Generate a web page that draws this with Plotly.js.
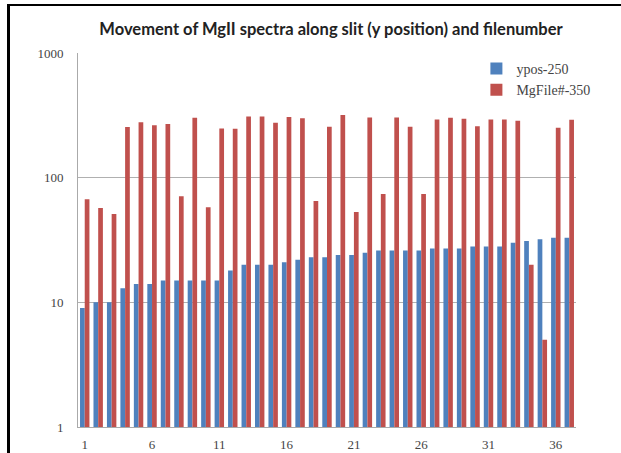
<!DOCTYPE html>
<html>
<head>
<meta charset="utf-8">
<script src="https://cdn.plot.ly/plotly-3.0.1.min.js"></script>
<style>
html,body{margin:0;padding:0;background:#fff;width:621px;height:453px;overflow:hidden;}
#frame{position:absolute;left:7px;top:4px;width:640px;height:480px;border-left:3px solid #000;border-top:2px solid #000;}
#chart{position:absolute;left:0;top:0;width:621px;height:453px;}
</style>
</head>
<body>
<div id="frame"></div>
<div id="chart"></div>
<script>
var fileNumbers = [1,2,3,4,5,6,7,8,9,10,11,12,13,14,15,16,17,18,19,20,21,22,23,24,25,26,27,28,29,30,31,32,33,34,35,36,37];
var ypos = [9,10,10,13,14,14,15,15,15,15,15,18,20,20,20,21,22,23,23,24,24,25,26,26,26,26,27,27,27,28,28,28,30,31,32,33,33];
var mgFile = [67,57,51,255,278,263,269,71,302,58,248,247,310,310,276,306,300,65,256,318,53,304,74,304,256,74,293,302,297,259,293,293,286,20,5,251,291];
var xTicks = [1,6,11,16,21,26,31,36];
var yTicks = [1,10,100,1000];
var yTickText = ['1','10','100','1000'];

var traces = [
  {type:'bar', name:'ypos-250', x:fileNumbers, y:ypos, marker:{color:'#4F81BD'}},
  {type:'bar', name:'MgFile#-350', x:fileNumbers, y:mgFile, marker:{color:'#C0504D'}}
];

var layout = {
  width:621, height:453,
  margin:{l:78, r:45, t:53, b:26},
  paper_bgcolor:'rgba(0,0,0,0)',
  plot_bgcolor:'#fff',
  barmode:'group',
  bargap:0.3,
  bargroupgap:0,
  showlegend:true,
  title:{text:'Movement of MgII spectra along slit (y position) and filenumber',
    font:{family:'Lato, sans-serif', size:16.5, color:'#222', weight:'bold'},
    x:0.533, xanchor:'center', y:0.935, yanchor:'middle'},
  xaxis:{type:'linear', range:[0.5,37.5], tickvals:xTicks, ticktext:xTicks.map(String),
    showgrid:false, zeroline:false, showline:true, linecolor:'#aaa', linewidth:1,
    ticks:'', ticklabelstandoff:5,
    tickfont:{family:'Liberation Serif, serif', size:13, color:'#444'}},
  yaxis:{type:'log', range:[0,3], tickvals:yTicks, ticktext:yTickText,
    showgrid:true, gridcolor:'#b0b0b0', gridwidth:1, zeroline:false,
    showline:true, linecolor:'#aaa', linewidth:1, ticks:'', ticklabelstandoff:11,
    tickfont:{family:'Liberation Serif, serif', size:13, color:'#444'}},
  legend:{x:0.80, xanchor:'left', y:1.0, yanchor:'top', bgcolor:'rgba(0,0,0,0)',
    font:{family:'Liberation Serif, serif', size:14, color:'#444'},
    itemwidth:30, tracegroupgap:0, traceorder:'normal'}
};

Plotly.newPlot('chart', traces, layout, {displayModeBar:false, staticPlot:true});
</script>
</body>
</html>
